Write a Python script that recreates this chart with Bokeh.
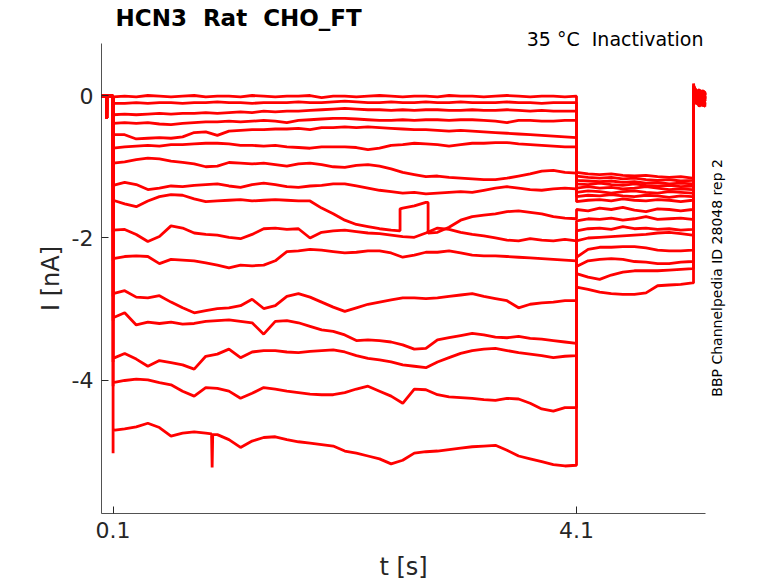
import numpy as np
from bokeh.plotting import figure
from bokeh.models import Range1d, FixedTicker, Title, Label
from bokeh.embed import file_html
from bokeh.resources import INLINE

# holding period before the step (with the small artifact near 0.045 s)
pre_t = [0.0, 0.045, 0.045, 0.046, 0.1]
pre_i = [-0.01, -0.01, -0.32, -0.01, -0.01]

# onset value of each sweep at the start of the prepulse
onset_i = [-0.02, -0.12, -0.28, -0.40, -0.56, -0.76, -0.97, -1.28,
           -1.50, -1.92, -2.32, -2.82, -3.16, -3.74, -4.08, -5.02]

# prepulse, 0.1 .. 4.1 s
pulse_t = [0.1, 0.2, 0.3, 0.4, 0.5, 0.6, 0.7, 0.8, 0.9, 1.0,
           1.1, 1.2, 1.3, 1.4, 1.5, 1.6, 1.7, 1.8, 1.9, 2.0,
           2.1, 2.2, 2.3, 2.4, 2.5, 2.6, 2.7, 2.8, 2.9, 3.0,
           3.1, 3.2, 3.3, 3.4, 3.5, 3.6, 3.7, 3.8, 3.9, 4.0,
           4.1]

pulse_i = [
    [-0.02, -0.01, -0.02, 0.00, -0.01, -0.02, -0.01, 0.00, -0.02, -0.01,
     -0.01, -0.02, 0.00, -0.01, -0.02, -0.01, -0.01, 0.00, -0.03, -0.01,
     -0.01, -0.02, -0.01, 0.00, -0.01, -0.02, -0.01, -0.01, -0.02, 0.00,
     -0.01, -0.01, -0.02, -0.01, 0.00, -0.01, -0.02, -0.01, -0.01, -0.02,
     -0.01],
    [-0.11, -0.11, -0.10, -0.11, -0.10, -0.10, -0.11, -0.10, -0.10, -0.09,
     -0.10, -0.10, -0.11, -0.10, -0.10, -0.10, -0.09, -0.10, -0.10, -0.09,
     -0.08, -0.09, -0.10, -0.10, -0.09, -0.10, -0.10, -0.09, -0.10, -0.10,
     -0.09, -0.10, -0.10, -0.10, -0.09, -0.10, -0.10, -0.11, -0.10, -0.10,
     -0.10],
    [-0.27, -0.26, -0.27, -0.26, -0.25, -0.26, -0.25, -0.25, -0.24, -0.25,
     -0.24, -0.23, -0.24, -0.22, -0.23, -0.22, -0.22, -0.21, -0.20, -0.19,
     -0.18, -0.19, -0.20, -0.20, -0.21, -0.20, -0.21, -0.20, -0.20, -0.21,
     -0.21, -0.20, -0.21, -0.21, -0.20, -0.21, -0.22, -0.21, -0.22, -0.22,
     -0.22],
    [-0.39, -0.38, -0.39, -0.38, -0.40, -0.41, -0.39, -0.38, -0.37, -0.37,
     -0.36, -0.37, -0.36, -0.35, -0.36, -0.38, -0.35, -0.34, -0.33, -0.32,
     -0.32, -0.33, -0.34, -0.35, -0.35, -0.34, -0.35, -0.34, -0.34, -0.35,
     -0.34, -0.34, -0.35, -0.36, -0.38, -0.35, -0.35, -0.36, -0.36, -0.35,
     -0.35],
    [-0.55, -0.55, -0.61, -0.60, -0.59, -0.60, -0.58, -0.52, -0.51, -0.56,
     -0.50, -0.49, -0.48, -0.48, -0.47, -0.47, -0.46, -0.48, -0.45, -0.45,
     -0.44, -0.45, -0.44, -0.45, -0.46, -0.47, -0.48, -0.48, -0.49, -0.50,
     -0.49, -0.50, -0.51, -0.52, -0.53, -0.54, -0.55, -0.56, -0.57, -0.58,
     -0.59],
    [-0.74, -0.72, -0.71, -0.70, -0.71, -0.69, -0.69, -0.68, -0.67, -0.67,
     -0.68, -0.70, -0.70, -0.71, -0.70, -0.72, -0.73, -0.74, -0.72, -0.72,
     -0.72, -0.73, -0.76, -0.74, -0.70, -0.69, -0.67, -0.68, -0.69, -0.71,
     -0.69, -0.67, -0.67, -0.66, -0.66, -0.68, -0.69, -0.70, -0.71, -0.72,
     -0.72],
    [-0.95, -0.93, -0.90, -0.88, -0.89, -0.92, -0.94, -0.96, -1.00, -0.99,
     -0.94, -0.95, -0.96, -0.95, -0.97, -0.99, -0.96, -0.95, -0.97, -1.00,
     -1.01, -0.98, -0.97, -0.99, -1.03, -1.08, -1.11, -1.14, -1.13, -1.15,
     -1.16, -1.17, -1.18, -1.18, -1.16, -1.13, -1.10, -1.06, -1.05, -1.08,
     -1.09],
    [-1.26, -1.22, -1.25, -1.32, -1.30, -1.27, -1.28, -1.26, -1.25, -1.24,
     -1.27, -1.29, -1.25, -1.23, -1.25, -1.28, -1.29, -1.27, -1.26, -1.24,
     -1.24, -1.27, -1.30, -1.33, -1.35, -1.37, -1.36, -1.38, -1.37, -1.36,
     -1.35, -1.36, -1.33, -1.30, -1.28, -1.30, -1.32, -1.33, -1.31, -1.30,
     -1.31],
    [-1.47, -1.52, -1.56, -1.48, -1.42, -1.39, -1.40, -1.45, -1.49, -1.48,
     -1.47, -1.46, -1.48, -1.47, -1.46, -1.47, -1.48, -1.48, -1.58, -1.66,
     -1.75, -1.81, -1.84, -1.87, -1.89, -1.58, -1.55, -1.50, -1.92, -1.85,
     -1.75, -1.70, -1.68, -1.66, -1.63, -1.62, -1.64, -1.66, -1.70, -1.72,
     -1.73],
    [-1.89, -1.88, -1.95, -2.05, -1.98, -1.83, -1.86, -1.93, -1.95, -1.96,
     -1.99, -2.01, -1.95, -1.87, -1.86, -1.88, -1.87, -2.00, -1.92, -1.90,
     -1.89, -1.91, -1.93, -1.94, -1.96, -1.98, -1.99, -1.93, -1.86, -1.88,
     -1.92, -1.95, -1.97, -2.00, -2.03, -2.04, -2.01, -2.03, -2.04, -2.02,
     -2.04],
    [-2.29, -2.26, -2.25, -2.26, -2.36, -2.30, -2.31, -2.32, -2.35, -2.38,
     -2.42, -2.38, -2.39, -2.38, -2.32, -2.19, -2.18, -2.16, -2.17, -2.19,
     -2.21, -2.20, -2.18, -2.18, -2.21, -2.27, -2.24, -2.20, -2.20, -2.18,
     -2.21, -2.24, -2.25, -2.25, -2.26, -2.27, -2.28, -2.29, -2.30, -2.31,
     -2.32],
    [-2.78, -2.74, -2.83, -2.84, -2.81, -2.90, -2.98, -3.05, -3.02, -2.99,
     -2.98, -2.95, -2.86, -2.99, -2.95, -2.82, -2.78, -2.83, -2.90, -2.97,
     -3.03, -2.98, -2.93, -2.90, -2.87, -2.84, -2.84, -2.85, -2.84, -2.82,
     -2.80, -2.78, -2.82, -2.85, -2.88, -2.98, -2.93, -2.91, -2.90, -2.88,
     -2.88],
    [-3.12, -3.05, -3.22, -3.18, -3.20, -3.18, -3.21, -3.20, -3.17, -3.16,
     -3.15, -3.17, -3.19, -3.35, -3.17, -3.16, -3.19, -3.24, -3.29, -3.31,
     -3.36, -3.44, -3.43, -3.44, -3.46, -3.50, -3.56, -3.55, -3.43, -3.40,
     -3.37, -3.34, -3.36, -3.39, -3.40, -3.38, -3.41, -3.42, -3.44, -3.46,
     -3.48],
    [-3.69, -3.62, -3.70, -3.80, -3.72, -3.75, -3.78, -3.84, -3.66, -3.63,
     -3.56, -3.68, -3.60, -3.58, -3.58, -3.60, -3.61, -3.59, -3.58, -3.57,
     -3.60, -3.65, -3.69, -3.71, -3.74, -3.78, -3.80, -3.82, -3.74, -3.68,
     -3.62, -3.58, -3.56, -3.55, -3.58, -3.61, -3.63, -3.65, -3.68, -3.66,
     -3.65],
    [-4.03, -4.00, -3.98, -3.99, -4.03, -4.06, -4.15, -4.22, -4.10, -4.11,
     -4.15, -4.25, -4.18, -4.10, -4.12, -4.15, -4.17, -4.19, -4.20, -4.20,
     -4.17, -4.12, -4.08, -4.15, -4.22, -4.32, -4.12, -4.13, -4.20, -4.23,
     -4.24, -4.25, -4.27, -4.28, -4.25, -4.26, -4.32, -4.40, -4.43, -4.38,
     -4.38],
    [-4.70, -4.68, -4.65, -4.60, -4.66, -4.78, -4.74, -4.72, -4.74, -4.76,
     -4.83, -4.94, -4.85, -4.80, -4.79, -4.83, -4.86, -4.88, -4.90, -4.92,
     -4.99, -5.02, -5.06, -5.10, -5.17, -5.12, -5.02, -5.00, -4.99, -4.97,
     -4.95, -4.93, -4.92, -4.91, -4.98, -5.06, -5.10, -5.14, -5.18, -5.20,
     -5.19],
]

# sharp events inside the prepulse: sweep index -> (times, values)
events = {
    8: ([2.577, 2.577, 2.819, 2.819], [-1.90, -1.59, -1.50, -1.93]),
    15: ([0.95, 0.955, 0.96], [-4.75, -5.22, -4.76]),
}

# test pulse, 4.1 .. 5.11 s
tail_t = [4.1, 4.2, 4.3, 4.4, 4.5, 4.6, 4.7, 4.8, 4.9, 5.0, 5.1, 5.11]

tail_i = [
    [-1.08, -1.10, -1.11, -1.10, -1.12, -1.13, -1.12, -1.14, -1.15, -1.14, -1.16, -1.16],
    [-1.13, -1.15, -1.16, -1.15, -1.17, -1.16, -1.18, -1.19, -1.18, -1.20, -1.19, -1.19],
    [-1.19, -1.20, -1.21, -1.20, -1.22, -1.21, -1.23, -1.22, -1.24, -1.23, -1.24, -1.24],
    [-1.24, -1.25, -1.23, -1.25, -1.26, -1.24, -1.26, -1.27, -1.26, -1.28, -1.27, -1.27],
    [-1.30, -1.28, -1.30, -1.29, -1.31, -1.30, -1.28, -1.30, -1.32, -1.31, -1.32, -1.32],
    [-1.36, -1.34, -1.35, -1.37, -1.35, -1.34, -1.36, -1.37, -1.35, -1.36, -1.37, -1.37],
    [-1.42, -1.40, -1.41, -1.39, -1.41, -1.42, -1.40, -1.41, -1.43, -1.41, -1.42, -1.42],
    [-1.49, -1.47, -1.46, -1.48, -1.45, -1.47, -1.48, -1.46, -1.47, -1.49, -1.47, -1.47],
    [-1.60, -1.62, -1.58, -1.60, -1.57, -1.61, -1.63, -1.59, -1.60, -1.62, -1.60, -1.60],
    [-1.76, -1.73, -1.74, -1.72, -1.75, -1.73, -1.70, -1.74, -1.73, -1.72, -1.74, -1.74],
    [-1.90, -1.87, -1.86, -1.88, -1.84, -1.87, -1.86, -1.88, -1.87, -1.89, -1.88, -1.88],
    [-2.04, -2.00, -1.99, -1.98, -1.97, -1.96, -1.95, -1.93, -1.92, -1.94, -1.96, -1.96],
    [-2.27, -2.16, -2.13, -2.13, -2.12, -2.12, -2.14, -2.17, -2.18, -2.18, -2.17, -2.17],
    [-2.40, -2.32, -2.30, -2.29, -2.30, -2.33, -2.34, -2.36, -2.36, -2.34, -2.33, -2.33],
    [-2.50, -2.55, -2.58, -2.52, -2.48, -2.46, -2.46, -2.46, -2.45, -2.44, -2.43, -2.43],
    [-2.69, -2.72, -2.76, -2.78, -2.79, -2.79, -2.77, -2.67, -2.66, -2.65, -2.63, -2.63],
]

# back at holding, 5.11 .. end
post_t = [5.11, 5.13, 5.16, 5.19, 5.214]

post_i = [
    [0.12, 0.05, 0.08, 0.02, 0.06],
    [0.10, 0.02, -0.05, 0.04, 0.00],
    [0.08, -0.03, 0.03, -0.08, -0.02],
    [0.14, 0.07, 0.00, 0.06, 0.03],
    [0.06, -0.06, -0.10, -0.04, -0.08],
    [0.11, 0.03, 0.06, -0.02, 0.04],
    [0.09, -0.01, -0.07, -0.12, -0.05],
    [0.13, 0.08, 0.02, 0.07, 0.01],
    [0.07, -0.09, -0.03, -0.10, -0.14],
    [0.10, 0.04, -0.02, 0.01, -0.06],
    [0.05, -0.12, -0.06, -0.15, -0.10],
    [0.12, 0.01, 0.05, -0.05, 0.02],
    [0.08, -0.04, -0.13, -0.07, -0.11],
    [0.11, 0.06, -0.01, 0.03, -0.03],
    [0.17, -0.08, -0.15, -0.11, -0.16],
    [0.09, 0.00, 0.04, -0.09, -0.01],
]

FONT = "DejaVu Sans"
AXC = "#262626"
NB = "\u00a0"
T_END = 5.214   # end of the recording, where the x axis line stops

# the frame runs a little past the data on the right so the vertical note fits
p = figure(frame_width=627, frame_height=470,
           min_border_left=101, min_border_right=48,
           min_border_top=0, min_border_bottom=69,
           x_range=Range1d(0, 5.412), y_range=Range1d(-5.867, 0.73),
           output_backend="svg", toolbar_location=None)

for k in range(len(pulse_i)):
    ev_t, ev_i = events.get(k, ([], []))
    pts = sorted(zip(pulse_t + ev_t, pulse_i[k] + ev_i), key=lambda q: q[0])
    ts = pre_t + [0.1] + [q[0] for q in pts] + tail_t + post_t
    vs = pre_i + [onset_i[k]] + [q[1] for q in pts] + tail_i[k] + post_i[k]
    p.line(ts, vs, line_color="#ff0000", line_width=2.8)

p.xgrid.visible = False
p.ygrid.visible = False
p.outline_line_color = None
p.background_fill_color = "white"

p.xaxis.bounds = (0, T_END)
p.xaxis.ticker = FixedTicker(ticks=[0.1, 4.1])
p.xaxis.major_label_overrides = {0.1: "0.1", 4.1: "4.1"}
p.yaxis.ticker = FixedTicker(ticks=[-4, -2, 0])
p.yaxis.major_label_overrides = {-4: "-4", -2: "-2", 0: "0"}
# the label is centred on the (wider) frame; the trailing no-break spaces
# pull it back under the middle of the axis line
p.xaxis.axis_label = "t [s]" + NB * 3
p.yaxis.axis_label = "I [nA]"
p.xaxis.axis_label_standoff = 12
p.yaxis.axis_label_standoff = 4

for ax in (p.xaxis, p.yaxis):
    ax.axis_line_color = AXC
    ax.axis_line_width = 0.8
    ax.major_tick_line_color = AXC
    ax.major_tick_in = 7
    ax.major_tick_out = 0
    ax.minor_tick_line_color = None
    ax.major_label_text_font = FONT
    ax.major_label_text_font_size = "22px"
    ax.major_label_text_color = AXC
    ax.major_label_standoff = 8
    ax.axis_label_text_font = FONT
    ax.axis_label_text_font_size = "24px"
    ax.axis_label_text_font_style = "normal"
    ax.axis_label_text_color = AXC

# vertical note right of the traces
p.add_layout(Label(x=5.309, y=-2.56, text="BBP Channelpedia ID 28048 rep 2",
                   angle=np.pi / 2,
                   text_font=FONT, text_font_size="14px", text_color="black",
                   text_align="center", text_baseline="alphabetic"))

# two title rows: main title on top, condition line nearest the axes
p.title.text = "HCN3" + NB + " Rat" + NB + " CHO_FT"
p.title.align = "left"
p.title.offset = 14
p.title.standoff = 3.5
p.title.text_font = FONT
p.title.text_font_size = "23px"
p.title.text_font_style = "bold"
p.title.text_color = "black"

p.add_layout(Title(text="35 °C" + NB + " Inactivation", align="right", offset=25,
                   standoff=-13.5, text_font=FONT, text_font_size="19px",
                   text_font_style="normal", text_color="black"), "above")

open("out.html", "w").write(file_html(p, INLINE))
